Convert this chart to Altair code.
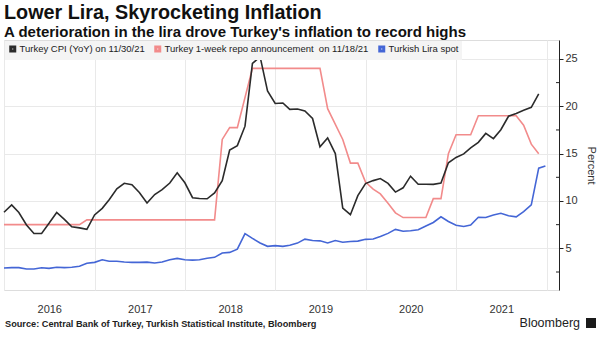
import altair as alt
import pandas as pd

# ---------------- data ----------------
series_names = [
    "Turkey CPI (YoY) on 11/30/21",
    "Turkey 1-week repo announcement\u00a0 on 11/18/21",
    "Turkish Lira spot",
]
series_colors = ["#2b2b2b", "#f28b8b", "#4466d6"]

month_ends = pd.date_range("2015-12-31", periods=72, freq=pd.offsets.MonthEnd()).strftime("%Y-%m-%d").tolist()

cpi_dates = month_ends
cpi_values = [
    8.81,
    9.58, 8.78, 7.46, 6.57, 6.58, 7.64, 8.79, 8.05, 7.28, 7.16, 7.00, 8.53,
    9.22, 10.13, 11.29, 11.87, 11.72, 10.90, 9.79, 10.68, 11.20, 11.90, 12.98, 11.92,
    10.35, 10.26, 10.23, 10.85, 12.15, 15.39, 15.85, 17.90, 24.52, 25.24, 21.62, 20.30,
    20.35, 19.67, 19.71, 19.50, 18.71, 15.72, 16.65, 15.01, 9.26, 8.55, 10.56, 11.84,
    12.15, 12.37, 11.86, 10.94, 11.39, 12.62, 11.76, 11.77, 11.75, 11.89, 14.03, 14.60,
    14.97, 15.61, 16.19, 17.14, 16.59, 17.53, 18.95, 19.25, 19.58, 19.89, 21.31,
]

fx_dates = month_ends + ["2021-12-27"]
fx_values = [
    2.92,
    2.96, 2.96, 2.82, 2.82, 2.95, 2.88, 3.00, 2.96, 3.00, 3.10, 3.42, 3.52,
    3.79, 3.64, 3.64, 3.55, 3.52, 3.52, 3.54, 3.45, 3.56, 3.79, 3.94, 3.79,
    3.76, 3.80, 3.96, 4.05, 4.50, 4.57, 4.91, 6.55, 6.05, 5.57, 5.21, 5.29,
    5.21, 5.33, 5.55, 5.97, 5.83, 5.79, 5.57, 5.82, 5.65, 5.72, 5.76, 5.95,
    5.98, 6.24, 6.58, 7.00, 6.81, 6.85, 6.97, 7.35, 7.73, 8.33, 7.83, 7.43,
    7.30, 7.45, 8.28, 8.26, 8.53, 8.70, 8.44, 8.32, 8.88, 9.59, 13.47,
    13.70,
]

repo_dates = [
    "2015-12-31", "2016-10-31", "2016-11-30", "2018-04-30", "2018-05-31",
    "2018-06-30", "2018-07-31", "2018-09-30", "2019-06-30", "2019-07-31",
    "2019-09-30", "2019-10-31", "2019-11-30", "2019-12-31", "2020-01-31",
    "2020-02-29", "2020-03-31", "2020-04-30", "2020-05-31", "2020-08-31",
    "2020-09-30", "2020-10-31", "2020-11-30", "2020-12-31", "2021-02-28",
    "2021-03-31", "2021-08-31", "2021-09-30", "2021-10-31", "2021-11-30",
]
repo_values = [
    7.5, 7.5, 8.0, 8.0, 16.5,
    17.75, 17.75, 24.0, 24.0, 19.75,
    16.5, 14.0, 14.0, 12.0, 11.25,
    10.75, 9.75, 8.75, 8.25, 8.25,
    10.25, 10.25, 15.0, 17.0, 17.0,
    19.0, 19.0, 18.0, 16.0, 15.0,
]

y_ticks = [5, 10, 15, 20, 25]
y_minor_ticks = [2.5, 7.5, 12.5, 17.5, 22.5]
year_ticks = [2016, 2017, 2018, 2019, 2020, 2021, 2022]

title_text = "Lower Lira, Skyrocketing Inflation"
subtitle_text = "A deterioration in the lira drove Turkey's inflation to record highs"
source_text = "Source: Central Bank of Turkey, Turkish Statistical Institute, Bloomberg"
brand_text = "Bloomberg"
y_title = "Percent"

# ---------------- build table ----------------
df = pd.concat([
    pd.DataFrame({"date": repo_dates, "value": repo_values, "series": series_names[1]}),
    pd.DataFrame({"date": cpi_dates, "value": cpi_values, "series": series_names[0]}),
    pd.DataFrame({"date": fx_dates, "value": fx_values, "series": series_names[2]}),
], ignore_index=True)

FONT = "Liberation Sans"
W, H = 555, 250

xscale = alt.Scale(domain=[alt.DateTime(year=2015, month=12, date=31),
                           alt.DateTime(year=2022, month=2, date=20)])
yscale = alt.Scale(domain=[0.6, 27], nice=False, zero=False)

xaxis = alt.Axis(
    values=[alt.DateTime(year=y, month=1, date=1) for y in year_ticks],
    labelExpr="year(datum.value) > 2021 ? '' : timeFormat(datum.value, '%Y')",
    title=None, domain=False, ticks=False, grid=True,
    gridColor="#e9e9e9", gridWidth=1,
    labelOffset=45, labelPadding=13, labelFontSize=11, labelColor="#333",
    labelFont=FONT, labelAlign="center",
)
yaxis = alt.Axis(
    orient="right", values=y_ticks, title=y_title, titleFont=FONT,
    titleFontSize=11, titleFontWeight="normal", titleColor="#333", titlePadding=8,
    domain=True, domainColor="#222", domainWidth=1,
    ticks=True, tickColor="#222", tickSize=4,
    labelFontSize=11, labelColor="#333", labelFont=FONT, labelPadding=2,
    grid=True, gridColor="#e9e9e9", gridWidth=1,
)
legend = alt.Legend(
    orient="top-left", direction="horizontal", title=None,
    symbolType="square", symbolSize=16, symbolStrokeWidth=3,
    labelFontSize=9.5, labelFont=FONT, labelColor="#222", labelLimit=400,
    fillColor="#f4f4f4", padding=3, offset=1, columnPadding=4, labelOffset=2,
)

color_scale = alt.Scale(domain=series_names, range=series_colors)


def line_layer(name):
    return alt.Chart(df).transform_filter(alt.datum.series == name).mark_line(
        strokeWidth=1.6
    ).encode(
        x=alt.X("date:T", scale=xscale, axis=xaxis),
        y=alt.Y("value:Q", scale=yscale, axis=yaxis),
        color=alt.Color("series:N", scale=color_scale, legend=legend),
    )


red = line_layer(series_names[1])
black = line_layer(series_names[0])
blue = line_layer(series_names[2])

minor = alt.Chart(pd.DataFrame({"value": y_minor_ticks})).mark_rule(color="#222", strokeWidth=1).encode(
    y=alt.Y("value:Q", scale=yscale, axis=yaxis),
    x=alt.value(W - 3), x2=alt.value(W),
)

source = alt.Chart(pd.DataFrame({"t": [source_text]})).mark_text(
    align="left", baseline="middle", font=FONT, fontSize=9.2, fontWeight="bold", color="#222"
).encode(x=alt.value(1), y=alt.value(284), text="t:N")

brand = alt.Chart(pd.DataFrame({"t": [brand_text]})).mark_text(
    align="right", baseline="middle", font=FONT, fontSize=12.5, color="#222"
).encode(x=alt.value(576), y=alt.value(283), text="t:N")

logo = alt.Chart(pd.DataFrame({"t": [brand_text]})).mark_square(
    filled=True, size=100, color="#1a1a1a", opacity=1
).encode(x=alt.value(587), y=alt.value(283))

chart = alt.layer(red, black, blue, minor, source, brand, logo).properties(
    width=W, height=H,
    title=alt.TitleParams(
        text=title_text, subtitle=subtitle_text, anchor="start", frame="group",
        font=FONT, fontSize=19.8, fontWeight="bold", color="#111",
        subtitleFont=FONT, subtitleFontSize=15, subtitleFontWeight="bold",
        subtitleColor="#111", subtitlePadding=1.5, offset=0.5,
    ),
    autosize=alt.AutoSizeParams(type="none"),
    padding={"left": 4, "top": 40, "right": 41, "bottom": 48},
).configure_view(stroke=None).configure(background="white")

chart.save("out.html", embed_options={"renderer": "svg", "actions": False})
